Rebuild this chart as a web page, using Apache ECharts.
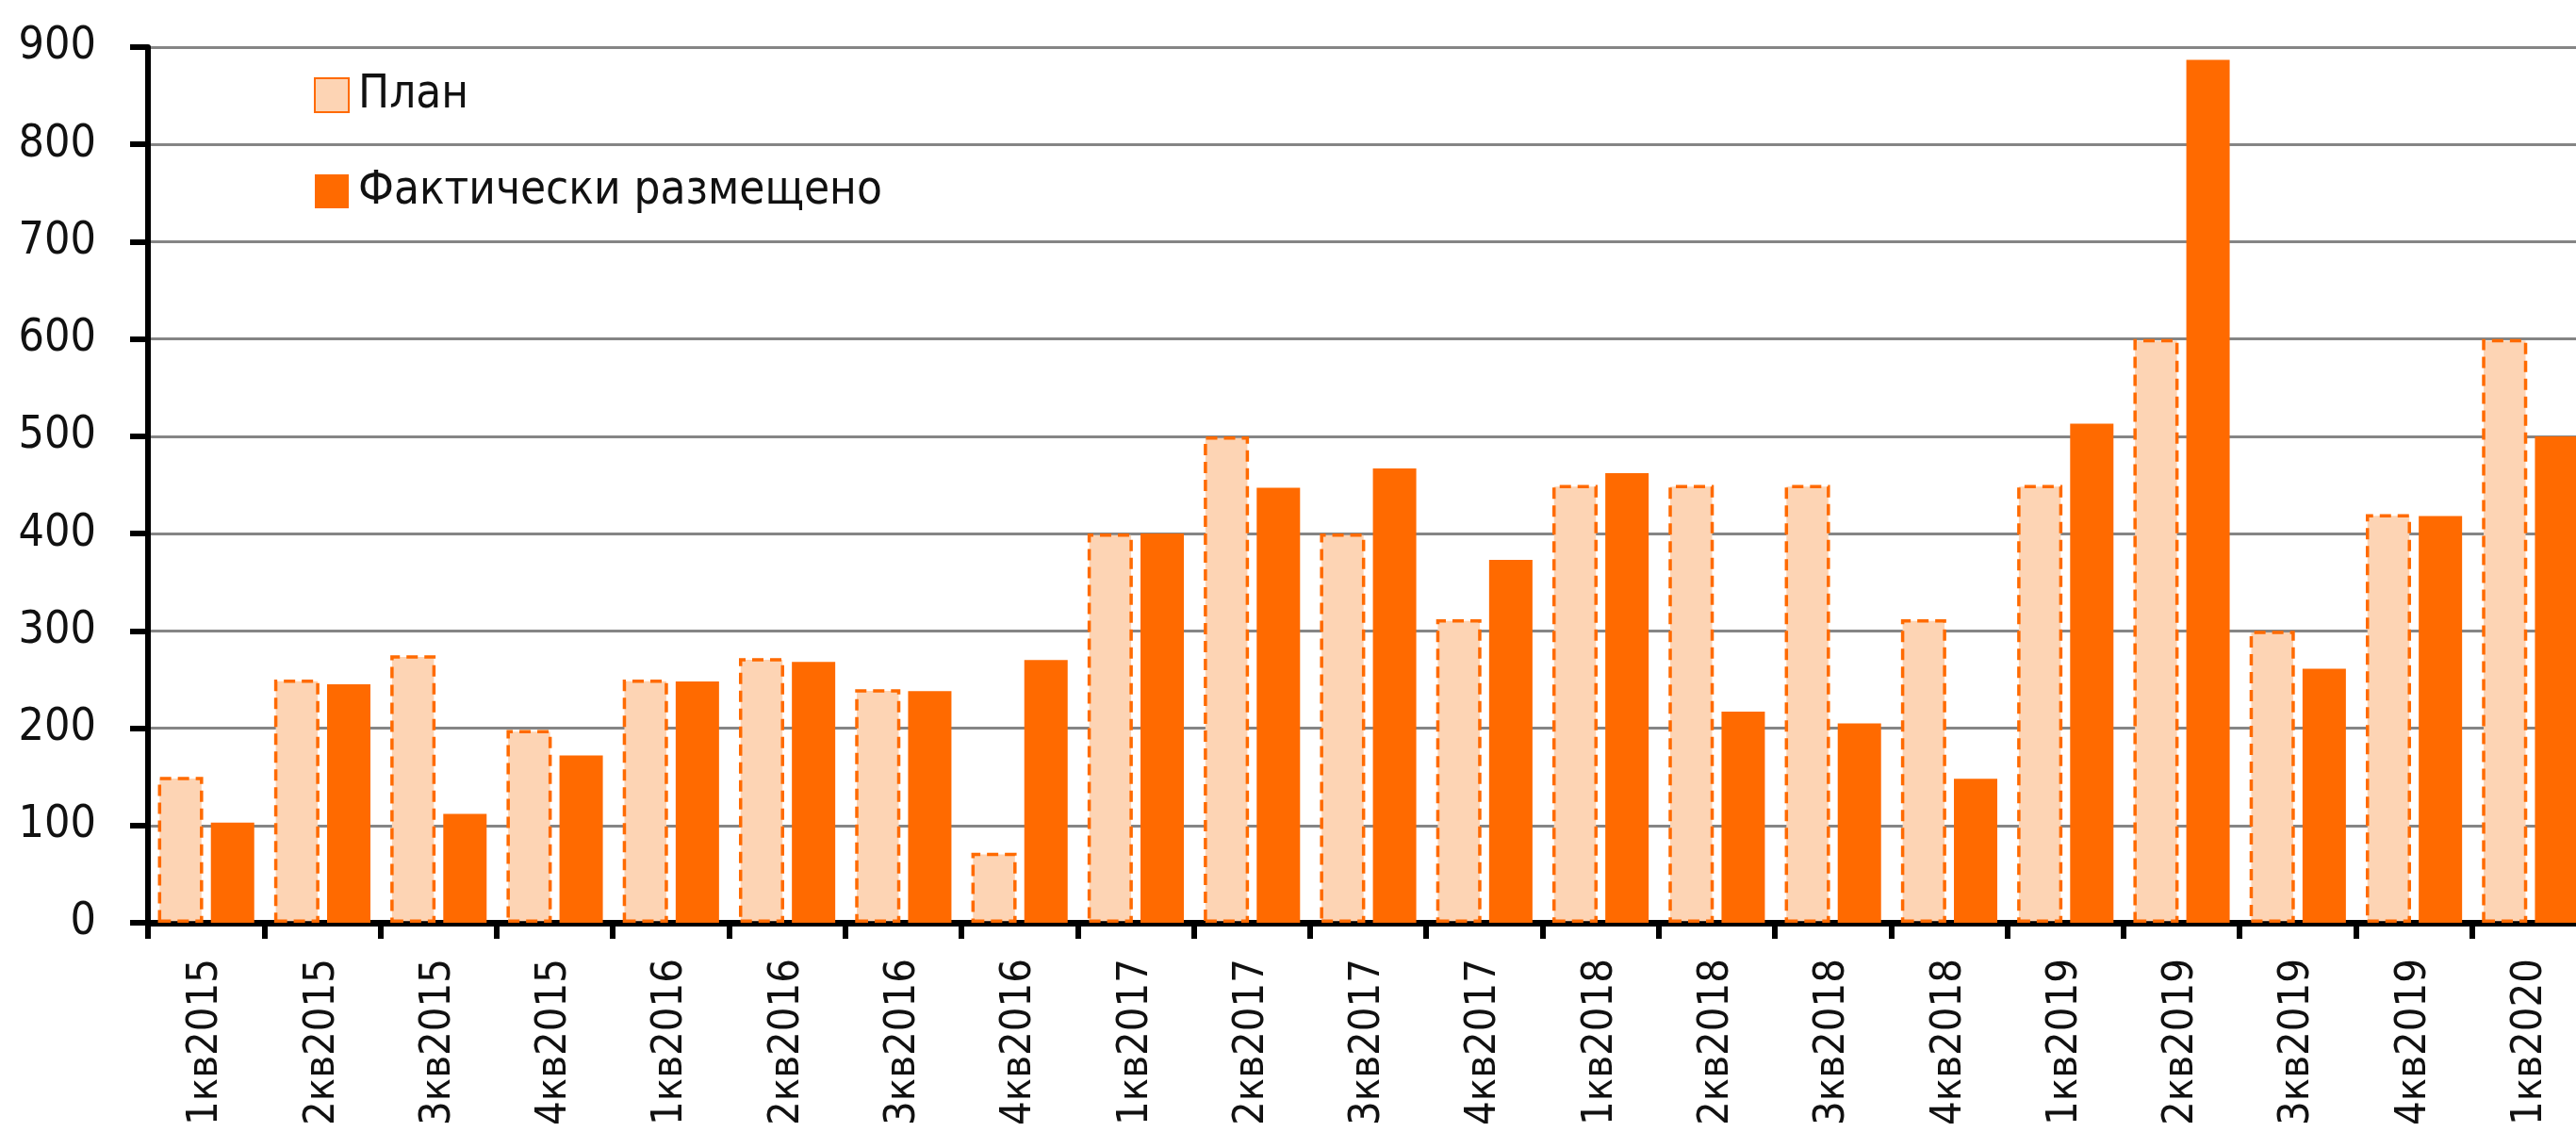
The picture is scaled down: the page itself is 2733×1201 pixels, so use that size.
<!DOCTYPE html>
<html>
<head>
<meta charset="utf-8">
<script src="https://cdn.jsdelivr.net/npm/echarts@6/dist/echarts.min.js"></script>
<style>
html,body{margin:0;padding:0;background:#fff;}
#chart{width:2733px;height:1201px;}
</style>
</head>
<body>
<div id="chart"></div>
<script>
const categories = ['1кв2015','2кв2015','3кв2015','4кв2015','1кв2016','2кв2016','3кв2016','4кв2016',
  '1кв2017','2кв2017','3кв2017','4кв2017','1кв2018','2кв2018','3кв2018','4кв2018',
  '1кв2019','2кв2019','3кв2019','4кв2019','1кв2020'];
const planValues = [150,250,275,198,250,272,240,72,400,500,400,312,450,450,450,312,450,600,300,420,600];
const actualValues = [103,245,112,172,248,268,238,270,400,447,467,373,462,217,205,148,513,887,261,418,500];
const seriesNames = ['План','Фактически размещено'];
const yTicks = {min:0, max:900, interval:100};

const FONT = "'Liberation Sans Narrow','Arial Narrow','DejaVu Sans Condensed',sans-serif";
const chart = echarts.init(document.getElementById('chart'), null, {renderer:'canvas'});
chart.setOption({
  animation:false,
  backgroundColor:'#ffffff',
  grid:{left:157, right:-13, top:50, bottom:222, containLabel:false, outerBoundsMode:'none'},
  legend:{
    orient:'vertical', left:328, top:66,
    icon:'rect',
    itemWidth:36, itemHeight:36, itemGap:42,
    textStyle:{fontFamily:FONT, fontSize:49, color:'#111', lineHeight:60, padding:[0,0,0,5]},
    data:seriesNames
  },
  xAxis:{
    type:'category', data:categories,
    axisLine:{lineStyle:{color:'#000', width:7}},
    axisTick:{show:true, length:17, lineStyle:{color:'#000', width:6}},
    axisLabel:{rotate:90, margin:38, fontFamily:FONT, fontSize:45, color:'#111', interval:0}
  },
  yAxis:{
    type:'value', min:yTicks.min, max:yTicks.max, interval:yTicks.interval,
    axisLine:{show:true, lineStyle:{color:'#000', width:6}},
    axisTick:{show:true, length:19, lineStyle:{color:'#000', width:6}},
    axisLabel:{margin:55, fontFamily:FONT, fontSize:48, color:'#111'},
    splitLine:{lineStyle:{color:'#858585', width:3}}
  },
  series:[
    {name:seriesNames[0], type:'bar', data:planValues, barWidth:48, barGap:'17%',
     itemStyle:{color:'#FDD4B4', borderColor:'#FF6A00', borderWidth:3.5, borderType:[12,7]}},
    {name:seriesNames[1], type:'bar', data:actualValues, barWidth:46,
     itemStyle:{color:'#FF6A00'}}
  ]
});
</script>
</body>
</html>
